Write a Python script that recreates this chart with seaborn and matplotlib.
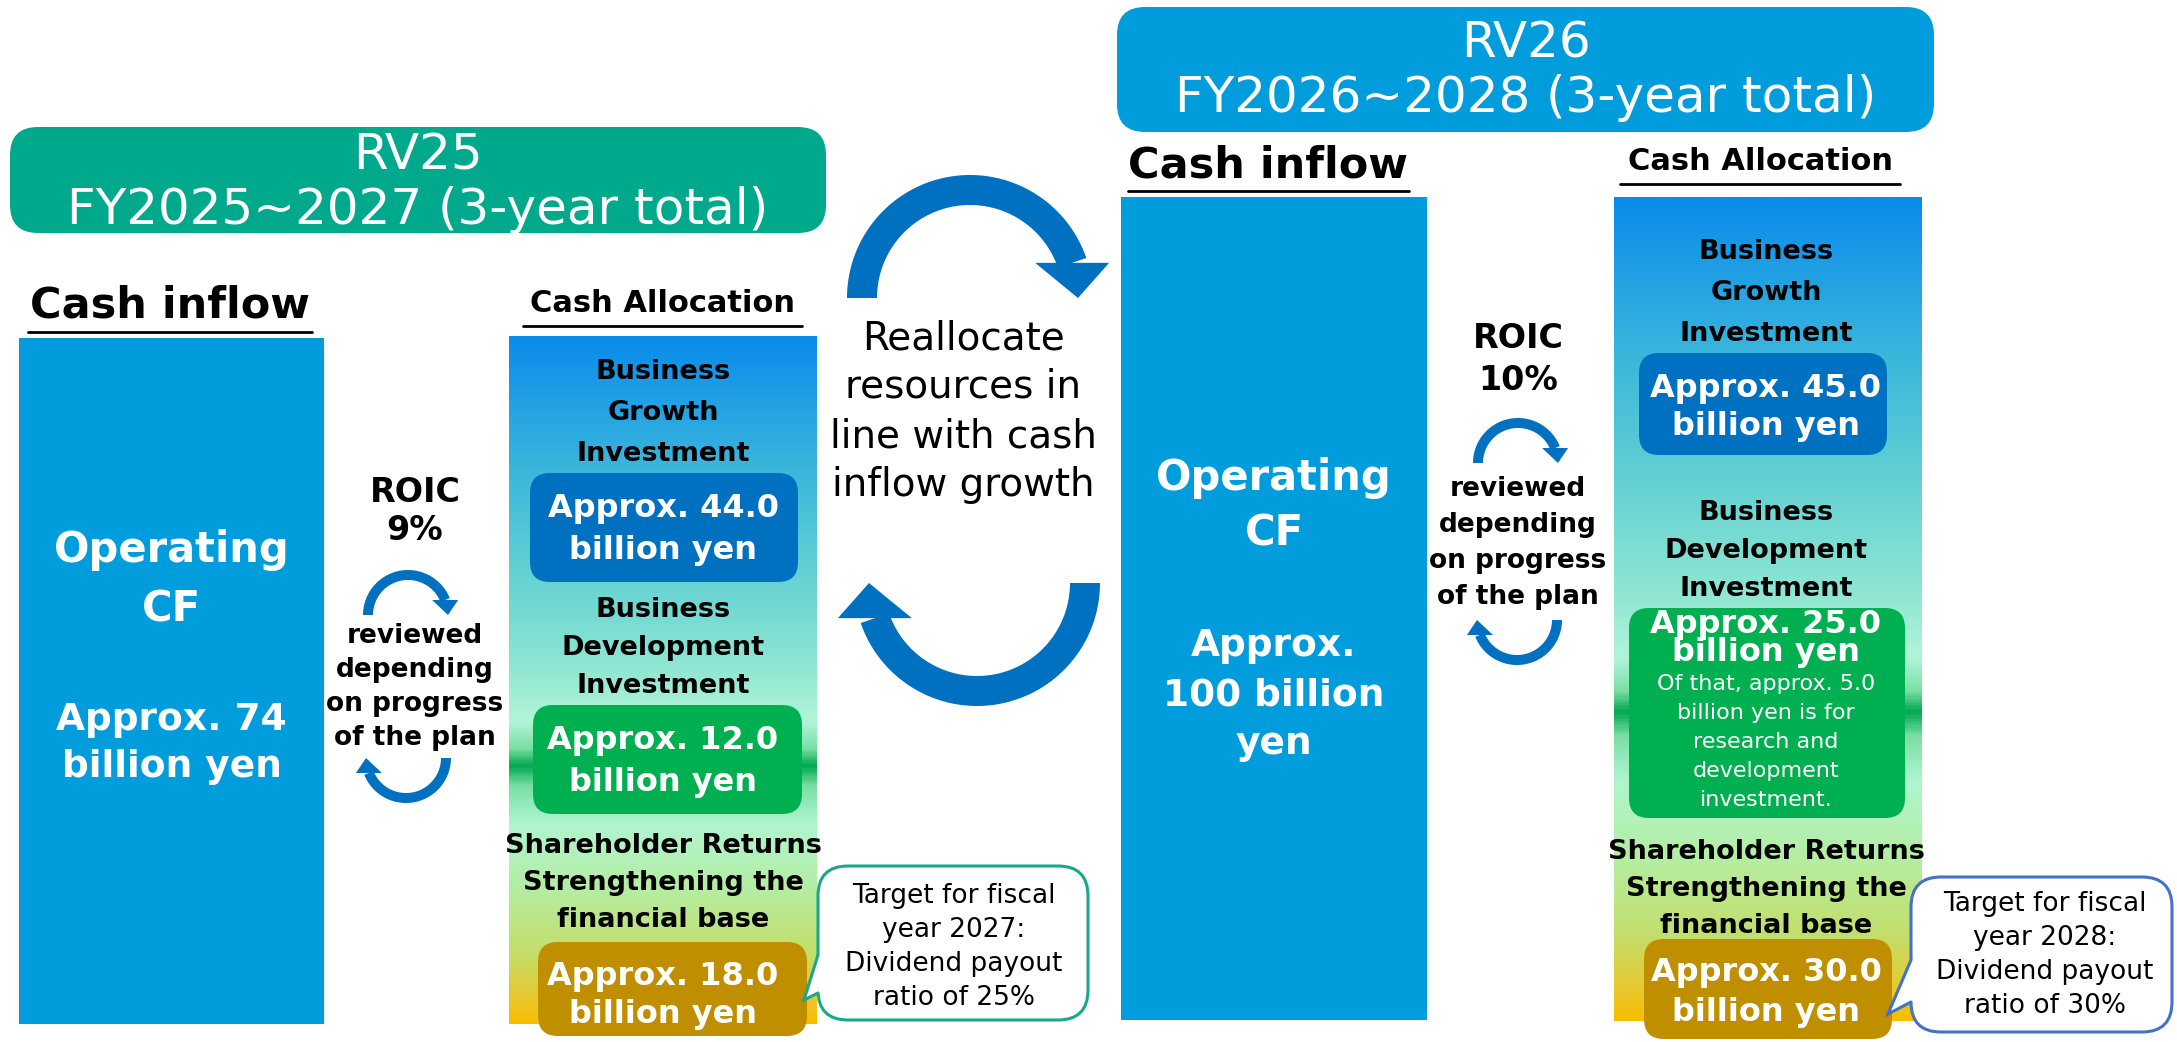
import numpy as np
import matplotlib
matplotlib.use("Agg")
import matplotlib.pyplot as plt
import seaborn as sns
from matplotlib.patches import FancyBboxPatch, Polygon, Rectangle
from matplotlib.colors import LinearSegmentedColormap

# === Data ===
plans = ["RV25", "RV26"]
plan_periods = ["FY2025~2027 (3-year total)", "FY2026~2028 (3-year total)"]
operating_cf = ["74", "100"]          # billion yen, 3-year total
roic_target = ["9%", "10%"]
growth_inv = ["44.0", "45.0"]         # billion yen
development_inv = ["12.0", "25.0"]
shareholder_ret = ["18.0", "30.0"]
rd_share = "5.0"                      # part of RV26 development investment
payout_year = ["2027", "2028"]
payout_ratio = ["25%", "30%"]
reallocate_note = "Reallocate\nresources in\nline with cash\ninflow growth"

# === Style ===
sns.set_theme(style="white")
plt.rcParams["font.family"] = ["DejaVu Sans"]

W, H = 2177, 1042
fig = plt.figure(figsize=(W / 100, H / 100), dpi=100)
ax = fig.add_axes([0, 0, 1, 1])

ARROW = "#0070C0"
grad_stops = [(0.0, "#0A8CEB"), (0.19, "#3AB6DC"), (0.33, "#5FCFD3"), (0.48, "#8EE6D2"),
              (0.56, "#B2F5D8"), (0.60, "#7ADFA5"), (0.625, "#00A850"), (0.655, "#7ADFA5"),
              (0.71, "#B0F5D0"), (0.80, "#B4EEA4"), (0.90, "#C4DE6A"), (0.97, "#ECC628"),
              (1.0, "#F7BE00")]
alloc_cmap = LinearSegmentedColormap.from_list("alloc", grad_stops)


def rbox(x0, y0, x1, y1, color, r=20, z=2):
    ax.add_patch(FancyBboxPatch((x0, y0), x1 - x0, y1 - y0,
                                boxstyle=f"round,pad=0,rounding_size={r}",
                                fc=color, ec="none", zorder=z))


def stack(x, y0, pitch, text, size, color="black", weight="bold", z=5):
    for k, s in enumerate(text.split("\n")):
        ax.text(x, y0 + k * pitch, s, ha="center", va="center", fontsize=size,
                color=color, fontweight=weight, zorder=z)


def underlined(x0, x1, y_text, y_line, text, size):
    ax.text((x0 + x1) / 2, y_text, text, ha="center", va="center", fontsize=size,
            fontweight="bold", color="black", zorder=5)
    ax.plot([x0, x1], [y_line, y_line], color="black", lw=2, zorder=5)


def vgrad(x0, y0, x1, y1):
    g = np.linspace(0, 1, 600).reshape(-1, 1)
    ax.imshow(g, cmap=alloc_cmap, extent=(x0, x1, y1, y0), origin="upper",
              aspect="auto", interpolation="bilinear", zorder=1)


def curved_arrow(cx, cy, r, w, a0, a1, a_tip, head_w):
    # ring sector from a0 to a1 (degrees, y up), head with a horizontal base at a1
    th = np.radians(np.linspace(a0, a1, 100))
    outer = [(cx + (r + w / 2) * np.cos(t), cy - (r + w / 2) * np.sin(t)) for t in th]
    inner = [(cx + (r - w / 2) * np.cos(t), cy - (r - w / 2) * np.sin(t)) for t in th[::-1]]
    ax.add_patch(Polygon(outer + inner, closed=True, fc=ARROW, ec="none", zorder=3))
    tb, tt = np.radians(a1), np.radians(a_tip)
    bx, by = cx + r * np.cos(tb), cy - r * np.sin(tb)
    head = [(bx - head_w / 2, by), (bx + head_w / 2, by),
            (cx + r * np.cos(tt), cy - r * np.sin(tt))]
    ax.add_patch(Polygon(head, closed=True, fc=ARROW, ec="none", zorder=3))


def callout(x0, y0, x1, y1, tip, ya, yb, ec):
    ax.add_patch(FancyBboxPatch((x0, y0), x1 - x0, y1 - y0,
                                boxstyle="round,pad=0,rounding_size=30",
                                fc="white", ec=ec, lw=2.2, zorder=6))
    ax.add_patch(Polygon([(x0 + 5, ya), (x0 - 1, ya), tip, (x0 - 1, yb), (x0 + 5, yb)],
                         closed=True, fc="white", ec="none", zorder=7))
    ax.plot([x0, tip[0], x0], [ya, tip[1], yb], color=ec, lw=2.2, zorder=8,
            solid_joinstyle="miter")


# === Layout of both plan panels (pixel coordinates) ===
panels = [
    dict(head=(10, 127, 826, 233), head_col="#00A88C", head_y=(155, 210),
         inflow_lab=(28, 312, 306, 332), alloc_lab=(523, 802, 304, 326),
         bar=(19, 338, 324, 1024), op_y=(550, 610), amt_y=(720, 47),
         roic=(415, 492, 38), arrows=((408, 615), (406, 758)), rev_y=(636, 34),
         alloc=(509, 336, 817, 1024), cx=663,
         g_head=372, g_box=(530, 473, 798, 582), g_txt=(509, 41),
         d_head=610, d_box=(533, 705, 802, 814), d_txt=(741, 41),
         s_head=846, s_box=(538, 942, 807, 1036), s_txt=(977, 37),
         call=(818, 866, 1088, 1020), call_tip=(804, 1000), call_ab=(955, 993),
         call_col="#1AA88C", call_x=954, call_y=896),
    dict(head=(1117, 7, 1934, 132), head_col="#009CDC", head_y=(44, 98),
         inflow_lab=(1128, 1409, 165, 191), alloc_lab=(1620, 1900, 162, 184),
         bar=(1121, 197, 1427, 1020), op_y=(478, 534), amt_y=(646, 49),
         roic=(1518, 339, 41), arrows=((1518, 463), (1517, 620)), rev_y=(489, 36),
         alloc=(1614, 197, 1922, 1021), cx=1766,
         g_head=252, g_box=(1639, 353, 1887, 455), g_txt=(389, 37),
         d_head=513, d_box=(1629, 608, 1905, 818), d_txt=(624, 29),
         s_head=852, s_box=(1644, 939, 1892, 1039), s_txt=(973, 39),
         call=(1911, 877, 2172, 1032), call_tip=(1888, 1014), call_ab=(960, 1002),
         call_col="#4472C4", call_x=2045, call_y=904),
]

for i, p in enumerate(panels):
    # header
    x0, y0, x1, y1 = p["head"]
    rbox(x0, y0, x1, y1, p["head_col"], r=28)
    ax.text((x0 + x1) / 2, p["head_y"][0], plans[i], ha="center", va="center",
            fontsize=36, color="white", zorder=5)
    ax.text((x0 + x1) / 2, p["head_y"][1], plan_periods[i], ha="center", va="center",
            fontsize=36, color="white", zorder=5)

    # cash inflow column
    a, b, ty, ly = p["inflow_lab"]
    underlined(a, b, ty, ly, "Cash inflow", 31)
    bx0, by0, bx1, by1 = p["bar"]
    ax.add_patch(Rectangle((bx0, by0), bx1 - bx0, by1 - by0, fc="#019CDC", ec="none", zorder=1))
    bcx = (bx0 + bx1) / 2
    stack(bcx, p["op_y"][0], p["op_y"][1] - p["op_y"][0], "Operating\nCF", 30, color="white")
    amt = f"Approx. {operating_cf[i]}\nbillion yen" if i == 0 else f"Approx.\n{operating_cf[i]} billion\nyen"
    stack(bcx, p["amt_y"][0], p["amt_y"][1], amt, 27, color="white")

    # ROIC and review arrows
    rx, ry, rp = p["roic"]
    stack(rx, ry, rp, f"ROIC\n{roic_target[i]}", 24)
    (ux, uy), (lx, ly2) = p["arrows"]
    curved_arrow(ux, uy, 40, 10, 180, 22, 0, 26)
    curved_arrow(lx, ly2, 40, 10, 0, -158, -180, 26)
    stack(rx, p["rev_y"][0], p["rev_y"][1],
          "reviewed\ndepending\non progress\nof the plan", 19)

    # cash allocation column
    a, b, ty, ly = p["alloc_lab"]
    underlined(a, b, ty, ly, "Cash Allocation", 22)
    vgrad(*p["alloc"])
    cx = p["cx"]
    stack(cx, p["g_head"], 41, "Business\nGrowth\nInvestment", 19.5)
    rbox(*p["g_box"], "#0070C0")
    stack(cx, p["g_txt"][0], p["g_txt"][1], f"Approx. {growth_inv[i]}\nbillion yen", 23, color="white")
    stack(cx, p["d_head"], 38, "Business\nDevelopment\nInvestment", 19.5)
    rbox(*p["d_box"], "#00B050")
    stack(cx, p["d_txt"][0], p["d_txt"][1], f"Approx. {development_inv[i]}\nbillion yen", 23, color="white")
    if i == 1:
        stack(cx, 684, 29, f"Of that, approx. {rd_share}\nbillion yen is for\nresearch and\n"
              "development\ninvestment.", 16, color="white", weight="normal")
    stack(cx, p["s_head"], 37, "Shareholder Returns\nStrengthening the\nfinancial base", 19.5)
    rbox(*p["s_box"], "#BF8F00")
    stack(cx, p["s_txt"][0], p["s_txt"][1], f"Approx. {shareholder_ret[i]}\nbillion yen", 23, color="white")

    # dividend target callout
    callout(*p["call"], p["call_tip"], *p["call_ab"], p["call_col"])
    stack(p["call_x"], p["call_y"], 34,
          f"Target for fiscal\nyear {payout_year[i]}:\nDividend payout\nratio of {payout_ratio[i]}",
          19, weight="normal", z=9)

# reallocation cycle in the middle
curved_arrow(970, 298, 108, 30, 180, 19, 0, 74)
curved_arrow(977, 583, 108, 30, 0, -161, -180, 74)
stack(963, 338, 49, reallocate_note, 28, weight="normal")

ax.set_xlim(0, W)
ax.set_ylim(H, 0)
ax.axis("off")
fig.savefig("out.png", dpi=100, facecolor="white")
